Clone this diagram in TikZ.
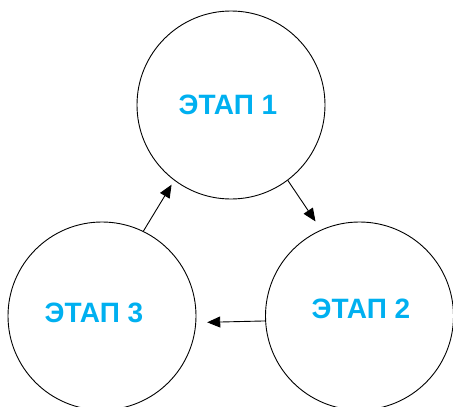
\documentclass[tikz,border=0pt]{standalone}
\usepackage{fontspec}
\setmainfont{Liberation Sans}
\usetikzlibrary{arrows.meta}
\definecolor{stagecol}{HTML}{00B0F0}
\begin{document}
\begin{tikzpicture}[x=1pt,y=1pt,
  stagenode/.style={circle,draw=black,line width=0.9pt,minimum size=188pt,inner sep=0pt,
    text=stagecol,font=\fontsize{28}{32}\selectfont\bfseries},
  flow/.style={line width=0.9pt,-{Triangle[length=13pt,width=11pt]}}]
\useasboundingbox (0,0) rectangle (453,-407);
\node[stagenode] (s1) at (231,-105) {};
\node[stagenode] (s2) at (359.5,-316) {};
\node[stagenode] (s3) at (102,-316) {};
\node[text=stagecol,font=\fontsize{28}{32}\selectfont\bfseries] (t1) at (228,-105) {ЭТАП 1};
\node[text=stagecol,font=\fontsize{28}{32}\selectfont\bfseries] (t2) at (361,-309) {ЭТАП 2};
\node[text=stagecol,font=\fontsize{28}{32}\selectfont\bfseries] (t3) at (94,-313) {ЭТАП 3};
\draw[flow,shorten >=10pt] (s1.-53.3) -- (s2.114.3);
\draw[flow,shorten >=11pt] (s2.183.7) -- (s3.-4);
\draw[flow,shorten >=5pt] (s3.64.8) -- (s1.233.2);
\end{tikzpicture}
\end{document}
